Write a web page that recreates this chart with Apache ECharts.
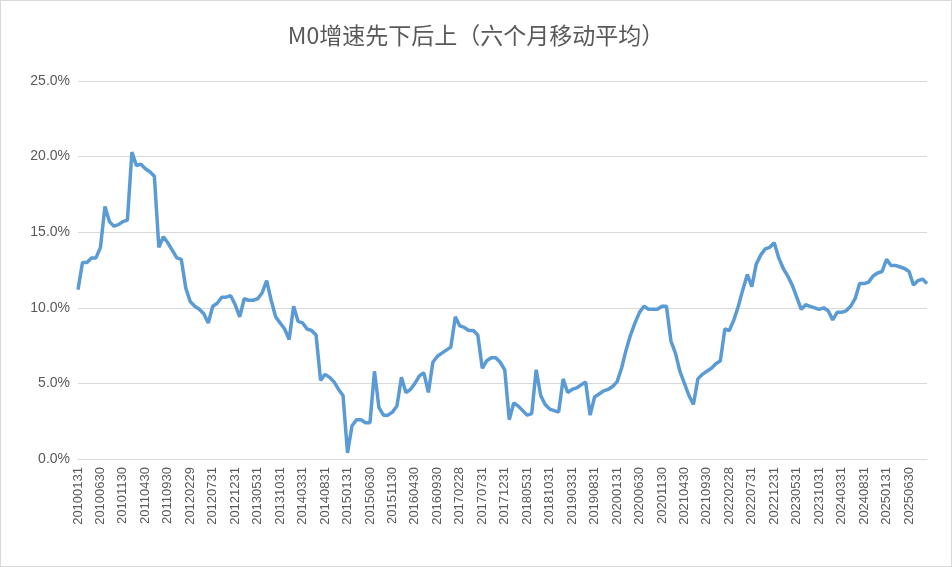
<!DOCTYPE html>
<html><head><meta charset="utf-8">
<script src="https://cdn.jsdelivr.net/npm/echarts@6/dist/echarts.min.js"></script>
<style>html,body{margin:0;padding:0;background:#fff}#c{width:950px;height:565px;border:1px solid #d9d9d9}</style>
</head><body><div id="c"></div>
<script>
const title = "M0增速先下后上（六个月移动平均）";
const startYear = 2010, monthCount = 190;
const values = [
11.2,13.0,13.0,13.3,13.3,14.0,16.7,15.7,15.4,15.5,15.7,15.8,
20.3,19.4,19.5,19.2,19.0,18.7,14.0,14.7,14.3,13.8,13.3,13.2,
11.3,10.4,10.1,9.9,9.6,9.0,10.1,10.3,10.7,10.7,10.8,10.2,
9.4,10.6,10.5,10.5,10.6,11.0,11.8,10.5,9.4,9.0,8.6,7.9,
10.1,9.1,9.0,8.6,8.5,8.2,5.2,5.6,5.4,5.1,4.6,4.2,
0.4,2.2,2.6,2.6,2.4,2.4,5.8,3.4,2.9,2.9,3.1,3.5,
5.4,4.4,4.6,5.0,5.5,5.7,4.4,6.4,6.8,7.0,7.2,7.4,
9.4,8.8,8.7,8.5,8.5,8.2,6.0,6.5,6.7,6.7,6.4,5.9,
2.6,3.7,3.5,3.2,2.9,3.0,5.9,4.2,3.6,3.3,3.2,3.1,
5.3,4.4,4.6,4.7,4.9,5.1,2.9,4.1,4.3,4.5,4.6,4.8,
5.1,6.0,7.2,8.2,9.0,9.7,10.1,9.9,9.9,9.9,10.1,10.1,
7.8,7.0,5.8,5.0,4.2,3.6,5.3,5.6,5.8,6.0,6.3,6.5,
8.6,8.5,9.2,10.1,11.2,12.2,11.4,12.9,13.5,13.9,14.0,14.3,
13.3,12.6,12.1,11.5,10.7,9.9,10.2,10.1,10.0,9.9,10.0,9.8,
9.2,9.7,9.7,9.8,10.1,10.6,11.6,11.6,11.7,12.1,12.3,12.4,
13.2,12.8,12.8,12.7,12.6,12.4,11.5,11.8,11.9,11.6
];
const categories = [];
for (let i = 0; i < monthCount; i++) {
  const y = startYear + Math.floor(i / 12), m = i % 12 + 1;
  const d = new Date(Date.UTC(y, m, 0)).getUTCDate();
  categories.push(String(y) + String(m).padStart(2, '0') + String(d).padStart(2, '0'));
}
const chart = echarts.init(document.getElementById('c'));
chart.setOption({
  animation: false,
  title: { text: title, left: 'center', top: 18, textStyle: { fontFamily: 'Noto Sans CJK SC', fontSize: 23, fontWeight: 'normal', color: '#595959' } },
  grid: { left: 77, right: 24, top: 80, bottom: 107 },
  xAxis: { type: 'category', data: categories, boundaryGap: false,
    axisLine: { lineStyle: { color: '#d9d9d9' } }, axisTick: { show: false },
    axisLabel: { interval: 4, rotate: 90, color: '#595959', fontSize: 13, fontFamily: 'Liberation Sans' } },
  yAxis: { type: 'value', min: 0, max: 25, interval: 5,
    axisLabel: { formatter: v => v.toFixed(1) + '%', color: '#595959', fontSize: 14, fontFamily: 'Liberation Sans' },
    splitLine: { lineStyle: { color: '#d9d9d9', width: 1 } }, axisLine: { show: false } },
  series: [{ type: 'line', data: values, symbol: 'none', lineStyle: { color: '#5B9BD5', width: 3.5 } }]
});
</script></body></html>
